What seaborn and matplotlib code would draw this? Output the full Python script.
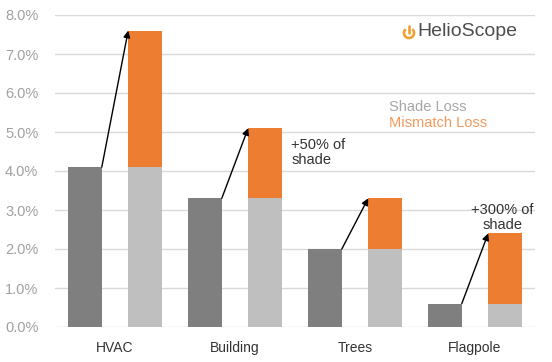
import matplotlib
matplotlib.use("Agg")
import matplotlib.pyplot as plt
import seaborn as sns
import pandas as pd
from matplotlib.patches import Arc
from matplotlib.lines import Line2D

categories = ["HVAC", "Building", "Trees", "Flagpole"]
shade_loss = [4.1, 3.3, 2.0, 0.6]
total_loss = [7.6, 5.1, 3.3, 2.4]
yticks = [0, 1, 2, 3, 4, 5, 6, 7, 8]
notes = {1: "+50% of\nshade", 3: "+300% of\nshade"}

DARK = "#7f7f7f"
LIGHT = "#bfbfbf"
ORANGE = "#ed7d31"

sns.set_theme(style="white")
plt.rcParams["font.family"] = ["Liberation Sans", "DejaVu Sans"]

fig = plt.figure(figsize=(5.52, 3.62), dpi=100)
ax = fig.add_axes([55/552, 1-327/362, 480/552, 312/362])

df_top = pd.DataFrame({
    "cat": categories * 2,
    "kind": ["a"] * 4 + ["b"] * 4,
    "val": shade_loss + total_loss,
})
df_base = pd.DataFrame({
    "cat": categories * 2,
    "kind": ["a"] * 4 + ["b"] * 4,
    "val": shade_loss + shade_loss,
})
sns.barplot(data=df_top, x="cat", y="val", hue="kind", palette=[DARK, ORANGE],
            width=1.0, gap=0.44, saturation=1, legend=False, ax=ax, zorder=2)
sns.barplot(data=df_base, x="cat", y="val", hue="kind", palette=[DARK, LIGHT],
            width=1.0, gap=0.44, saturation=1, legend=False, ax=ax, zorder=2)
for p in ax.patches:
    p.set_edgecolor("none")
    p.set_linewidth(0)

ax.set_xlim(-0.5, 3.5)
ax.set_ylim(0, 8)
ax.set_yticks(yticks)
ax.set_yticklabels([f"{v:.1f}%" for v in yticks], color="#a0a0a0", fontsize=10.5)
ax.yaxis.grid(True, color="#d9d9d9", linewidth=1)
ax.set_axisbelow(True)
for s in ax.spines.values():
    s.set_visible(False)
ax.tick_params(axis="y", length=0, pad=12)
ax.tick_params(axis="x", length=0, pad=10, labelsize=10, labelcolor="#333333")
ax.set_xlabel("")
ax.set_ylabel("")

for i in range(len(categories)):
    ax.annotate("", xy=(i + 0.25 - 0.14, total_loss[i]), xytext=(i - 0.25 + 0.14, shade_loss[i]),
                arrowprops=dict(arrowstyle="-|>", color="black", lw=1.0,
                                mutation_scale=10, shrinkA=0, shrinkB=0), zorder=5)

ax.text(1.47, 4.85, notes[1], fontsize=10.5, color="#333333", va="top", ha="left", linespacing=1.1)
ax.text(3.23, 3.17, notes[3], fontsize=10.5, color="#333333", va="top", ha="center", linespacing=1.1)

ax.text(2.28, 5.65, "Shade Loss", fontsize=10.5, color="#a6a6a6", va="center", ha="left")
ax.text(2.28, 5.22, "Mismatch Loss", fontsize=10.5, color="#f09a5c", va="center", ha="left")

# HelioScope logo
fig.text(417/552, 1-32/362, "HelioScope", fontsize=14, color="#4d4d4d", va="center", ha="left")
r = 5.0
fig.add_artist(Arc((409/552, 1-33/362), 2*r/552, 2*r/362, theta1=-240, theta2=60,
                   color="#f0a030", lw=1.9, transform=fig.transFigure))
fig.add_artist(Line2D([409/552, 409/552], [1-26/362, 1-33/362], color="#f0a030", lw=1.9,
                      transform=fig.transFigure))

fig.savefig("out.png", dpi=100)
